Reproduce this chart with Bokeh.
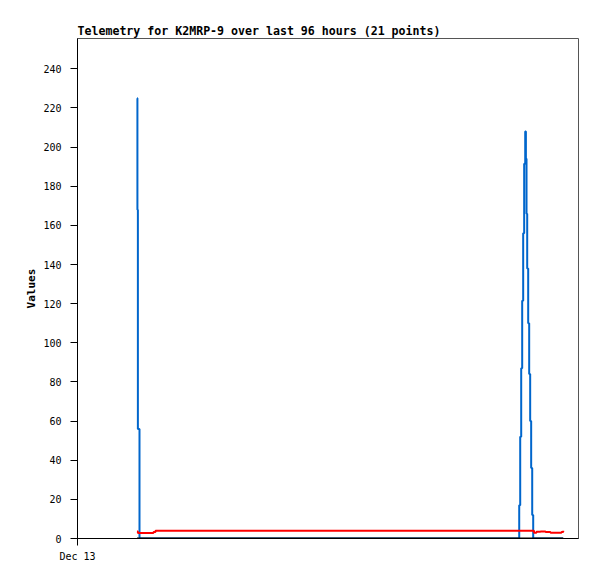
from bokeh.plotting import figure
from bokeh.models import Range1d, FixedTicker, Title
from bokeh.embed import file_html
from bokeh.resources import INLINE

# hours since Dec 13 00:00
hours = [11.40, 11.48, 11.57, 11.88, 14.56, 14.95,
         84.64, 84.83, 85.02, 85.21, 85.40, 85.59, 85.79,
         85.92, 86.04, 86.17, 86.36, 86.55, 86.74, 86.93, 87.13, 87.32,
         87.47, 87.95, 88.72, 89.68, 90.63, 92.74, 93.07]
blue_vals = [225, 168, 56, 0, 0, 0,
             17, 52, 87, 121.5, 156, 191.5, 208,
             194, 166, 138, 110, 84, 60, 36, 12, 0,
             0, 0, 0, 0, 0, 0, 0]
red_vals = [3.6, 3.6, 2.8, 2.8, 3.3, 3.9,
            3.9, 3.9, 3.9, 3.9, 3.9, 3.9, 3.9,
            3.9, 3.9, 3.9, 3.9, 3.9, 3.9, 3.9, 3.9, 3.9,
            3.0, 3.4, 3.6, 3.3, 2.9, 3.3, 3.9]
black_vals = [0] * len(hours)

x_tick_positions = [0]
x_tick_labels = {0: "Dec 13"}
y_ticks = list(range(0, 241, 20))

MONO = "DejaVu Sans Mono"

p = figure(width=588, height=568, output_backend="svg", toolbar_location=None,
           x_range=Range1d(0, 96), y_range=Range1d(0, 255.5),
           min_border_left=77, min_border_right=10, min_border_top=38, min_border_bottom=30)
p.title = Title(text="Telemetry for K2MRP-9 over last 96 hours (21 points)",
                text_font=MONO, text_font_size="11.6px", text_font_style="bold",
                align="left", offset=0, standoff=1, text_color="black")

p.xgrid.visible = False
p.ygrid.visible = False
p.outline_line_color = "#555555"
p.outline_line_width = 1
p.background_fill_color = "white"
p.border_fill_color = "white"

xa = p.xaxis[0]
xa.ticker = FixedTicker(ticks=x_tick_positions)
xa.major_label_overrides = x_tick_labels
xa.major_tick_out = 7
xa.major_tick_in = 0
xa.minor_tick_out = 0
xa.minor_tick_in = 0
xa.axis_line_color = "black"
xa.major_tick_line_color = "black"
xa.major_label_text_font = MONO
xa.major_label_text_font_size = "10px"
xa.major_label_text_color = "black"
xa.major_label_standoff = 5

ya = p.yaxis[0]
ya.ticker = FixedTicker(ticks=y_ticks)
ya.major_tick_out = 7
ya.major_tick_in = 0
ya.minor_tick_out = 0
ya.minor_tick_in = 0
ya.axis_line_color = "black"
ya.major_tick_line_color = "black"
ya.major_label_text_font = MONO
ya.major_label_text_font_size = "10px"
ya.major_label_text_color = "black"
ya.major_label_standoff = 9
ya.axis_label = "Values"
ya.axis_label_text_font = MONO
ya.axis_label_text_font_size = "11px"
ya.axis_label_text_font_style = "bold"
ya.axis_label_text_color = "black"
ya.axis_label_standoff = 2

p.step(hours, blue_vals, mode="after", line_color="#0066cc", line_width=2)
p.step(hours, red_vals, mode="after", line_color="#ff0000", line_width=2)
p.step(hours, black_vals, mode="after", line_color="black", line_width=2)

open("out.html", "w").write(file_html(p, INLINE))
